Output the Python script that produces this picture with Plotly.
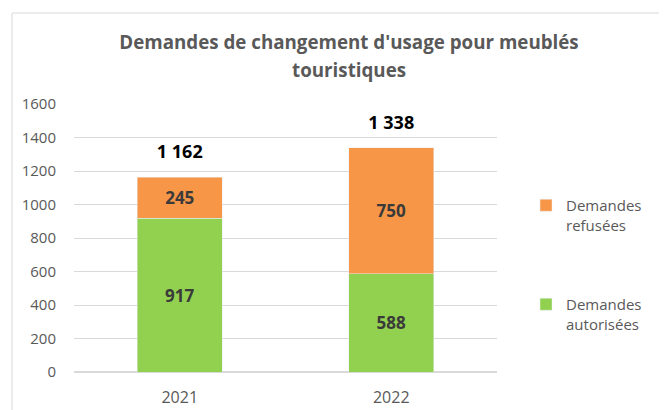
import plotly.graph_objects as go

years = ["2021", "2022"]
autorisees = [917, 588]
refusees = [245, 750]
totals = [a + r for a, r in zip(autorisees, refusees)]
total_labels = ["1 162", "1 338"]
y_ticks = [0, 200, 400, 600, 800, 1000, 1200, 1400, 1600]
title_line1 = "Demandes de changement d'usage pour meublés"
title_line2 = "touristiques"

FONT = "Open Sans"
GRAY = "#595959"
# the page body has an 8px margin: the figure is drawn 8px right/down
W, H = 659, 402

fig = go.Figure()
fig.add_trace(go.Bar(
    x=years, y=autorisees, name="Demandes<br>autorisées",
    marker_color="#92D050",
    text=["<b>%d</b>" % v for v in autorisees], textposition="inside",
    insidetextanchor="middle",
    textfont=dict(family=FONT, size=17, color="#3A3A3A"),
    legendgroup="a", legendrank=2,
))
fig.add_trace(go.Bar(
    x=years, y=refusees, name="Demandes<br>refusées",
    marker_color="#F79646",
    text=["<b>%d</b>" % v for v in refusees], textposition="inside",
    insidetextanchor="middle",
    textfont=dict(family=FONT, size=17, color="#3A3A3A"),
    legendgroup="r", legendrank=1,
))
# totals above the stacks
fig.add_trace(go.Scatter(
    x=years, y=totals, mode="markers+text",
    text=["<b>%s</b>" % t for t in total_labels], textposition="top center",
    marker=dict(size=22, opacity=0),
    textfont=dict(family=FONT, size=18, color="#000000"),
    showlegend=False, hoverinfo="skip",
))

# second title line
fig.add_annotation(text="<b>%s</b>" % title_line2, xref="paper", yref="paper",
                   x=(349 - 74) / 423, y=(372 - 70) / 268, showarrow=False,
                   xanchor="center", yanchor="middle",
                   font=dict(family=FONT, size=18.75, color=GRAY))

# chart frame
fig.add_shape(type="rect", xref="paper", yref="paper",
              x0=-0.1466, x1=1.42, y0=-0.3, y1=1.3396,
              line=dict(color="#D9D9D9", width=1), layer="below")

fig.update_layout(
    barmode="stack", bargap=0.6,
    width=W, height=H,
    margin=dict(l=66, r=170, t=96, b=38, autoexpand=False),
    paper_bgcolor="white", plot_bgcolor="white",
    title=dict(text="<b>%s</b>" % title_line1,
               x=341 / W, xanchor="center", xref="container",
               y=1 - 34 / H, yanchor="middle", yref="container",
               font=dict(family=FONT, size=18.75, color=GRAY)),
    font=dict(family=FONT, color=GRAY),
    showlegend=True,
    legend=dict(x=1.0686, xanchor="left", y=(372 - 189) / 268, yanchor="top",
                traceorder="grouped", tracegroupgap=57, valign="top",
                font=dict(family=FONT, size=15, color=GRAY),
                bgcolor="rgba(0,0,0,0)"),
    xaxis=dict(type="category", categoryorder="array", categoryarray=years,
               showline=False, tickfont=dict(size=16, color=GRAY),
               ticks="outside", ticklen=11, tickcolor="rgba(0,0,0,0)", showgrid=False,
               automargin=False),
    yaxis=dict(range=[0, 1600], tickvals=y_ticks, showgrid=True,
               gridcolor="#D9D9D9", gridwidth=1, zeroline=True,
               zerolinecolor="#D9D9D9", tickfont=dict(size=15, color=GRAY),
               ticks="outside", ticklen=14, tickcolor="rgba(0,0,0,0)",
               automargin=False),
)

fig.write_html("out.html")
